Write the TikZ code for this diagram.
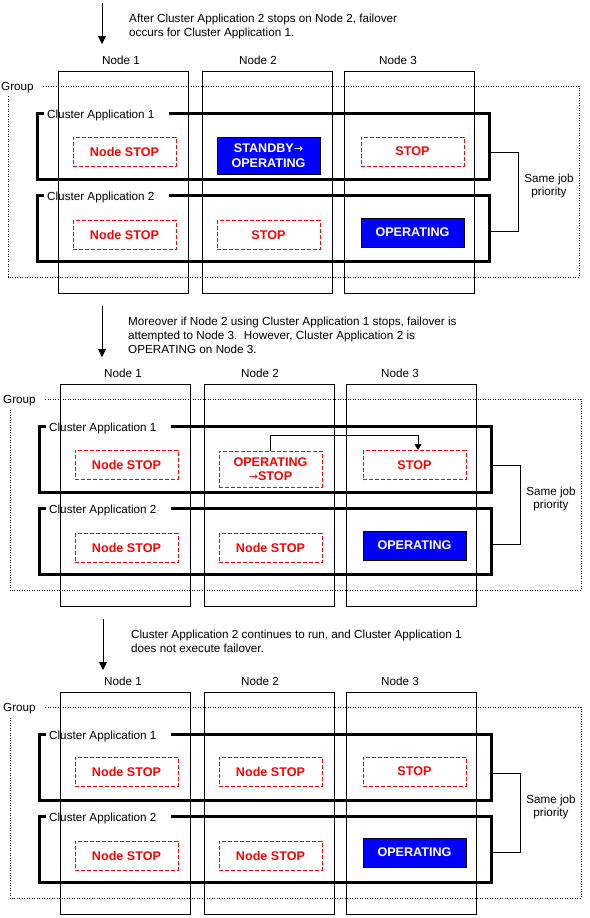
\documentclass[tikz,border=0pt]{standalone}
\usepackage{fontspec}
\setmainfont{Liberation Sans}
\newfontfamily\arrowfont{DejaVu Sans}
\newcommand\rarr{{\arrowfont\fontsize{11}{14}\selectfont\mdseries →}}
\usetikzlibrary{arrows.meta}
\newcommand\pframe[1]{%
  \node[nodebox] (#1N1) at (123,182) {};
  \node[nodebox] (#1N2) at (267.5,182) {};
  \node[nodebox] (#1N3) at (409.5,182) {};
  \node[lbl,anchor=base] (#1L1) at (121,64.3) {Node 1};
  \node[lbl,anchor=base] (#1L2) at (258,64.3) {Node 2};
  \node[lbl,anchor=base] (#1L3) at (398,64.3) {Node 3};
  \node[lbl,anchor=base west] (#1G) at (1,90.5) {Group};
  \draw[grp] (43,86) -- (579,86) -- (579,277) -- (8,277) -- (8,95);
  \node[lbl,anchor=base west] (#1A1) at (47,118.3) {Cluster Application 1};
  \draw[appline] (44,113) -- (37,113) -- (37,179) -- (489,179) -- (489,113) -- (169,113);
  \node[lbl,anchor=base west] (#1A2) at (47,200.3) {Cluster Application 2};
  \draw[appline] (44,195) -- (37,195) -- (37,261) -- (489,261) -- (489,195) -- (169,195);
  \draw[thinline] (489,152) -- (518,152) -- (518,231) -- (489,231);
  \node[lbl,align=center] (#1S) at (549,186) {Same job\\priority};
}
\begin{document}
\begin{tikzpicture}[x=1pt,y=-1pt,
  lbl/.style={font=\fontsize{11.7}{13.5}\selectfont, inner sep=0pt},
  nodebox/.style={draw, line width=1pt, minimum width=130pt, minimum height=222pt, inner sep=0pt},
  stopbox/.style={draw=red, dash pattern=on 4pt off 2pt, line width=1pt, text=red,
    font=\fontsize{12.6}{14.5}\selectfont\bfseries, minimum width=103pt, minimum height=29pt, inner sep=0pt, align=center},
  opbox/.style={draw=black, fill=blue, line width=1pt, text=white,
    font=\fontsize{12.6}{14.5}\selectfont\bfseries, minimum width=103pt, minimum height=29pt, inner sep=0pt, align=center},
  appline/.style={line width=3pt},
  thinline/.style={line width=1pt},
  grp/.style={line width=1pt, dash pattern=on 1pt off 1.5pt},
  flow/.style={line width=1pt, -{Triangle[width=8pt,length=8pt]}},
  smallflow/.style={line width=1pt, -{Triangle[width=7pt,length=6pt]}},
]
\useasboundingbox (0,0) rectangle (589,918);

% ---------- Panel 1 ----------
\coordinate (a1s) at (102,3);
\coordinate (a1e) at (102,44);
\draw[flow] (a1s) -- (a1e);
\node[lbl,anchor=base west] (t1a) at (129,22.5) {After Cluster Application 2 stops on Node 2, failover};
\node[lbl,anchor=base west] (t1b) at (129,36.5) {occurs for Cluster Application 1.};
\begin{scope}
  \pframe{p1}
  \node[stopbox] (p1b11) at (124.5,151.5) {Node STOP};
  \node[opbox, minimum height=37pt] (p1b12) at (268.5,155.5) {STANDBY\rarr\\OPERATING};
  \node[stopbox] (p1b13) at (412.5,151.5) {STOP};
  \node[stopbox] (p1b21) at (124.5,235) {Node STOP};
  \node[stopbox] (p1b22) at (268.5,235) {STOP};
  \node[opbox] (p1b23) at (412.5,232.5) {OPERATING};
\end{scope}

% ---------- Panel 2 ----------
\coordinate (a2s) at (102,306);
\coordinate (a2e) at (102,357);
\draw[flow] (a2s) -- (a2e);
\node[lbl,anchor=base west] (t2a) at (128,325.5) {Moreover if Node 2 using Cluster Application 1 stops, failover is};
\node[lbl,anchor=base west] (t2b) at (128,339.5) {attempted to Node 3.\ \ However, Cluster Application 2 is};
\node[lbl,anchor=base west] (t2c) at (128,353.5) {OPERATING on Node 3.};
\begin{scope}[shift={(2,313)}]
  \pframe{p2}
  \node[stopbox] (p2b11) at (124.5,151.5) {Node STOP};
  \node[stopbox, minimum height=36pt] (p2b12) at (268.5,156) {OPERATING\\\rarr STOP};
  \node[stopbox] (p2b13) at (412.5,152) {STOP};
  \node[stopbox] (p2b21) at (124.5,235) {Node STOP};
  \node[stopbox] (p2b22) at (268.5,235) {Node STOP};
  \node[opbox] (p2b23) at (412.5,232.5) {OPERATING};
  \draw[smallflow] (p2b12.north) -- ++(0,-15) -| ([xshift=3.5pt]p2b13.north);
\end{scope}

% ---------- Panel 3 ----------
\coordinate (a3s) at (103,619);
\coordinate (a3e) at (103,670);
\draw[flow] (a3s) -- (a3e);
\node[lbl,anchor=base west] (t3a) at (131,638) {Cluster Application 2 continues to run, and Cluster Application 1};
\node[lbl,anchor=base west] (t3b) at (131,652) {does not execute failover.};
\begin{scope}[shift={(2,621)}]
  \pframe{p3}
  \node[stopbox] (p3b11) at (124.5,150.5) {Node STOP};
  \node[stopbox] (p3b12) at (268.5,150.5) {Node STOP};
  \node[stopbox] (p3b13) at (412.5,150.5) {STOP};
  \node[stopbox] (p3b21) at (124.5,234.5) {Node STOP};
  \node[stopbox] (p3b22) at (268.5,234.5) {Node STOP};
  \node[opbox] (p3b23) at (412.5,231.5) {OPERATING};
\end{scope}
\end{tikzpicture}
\end{document}
